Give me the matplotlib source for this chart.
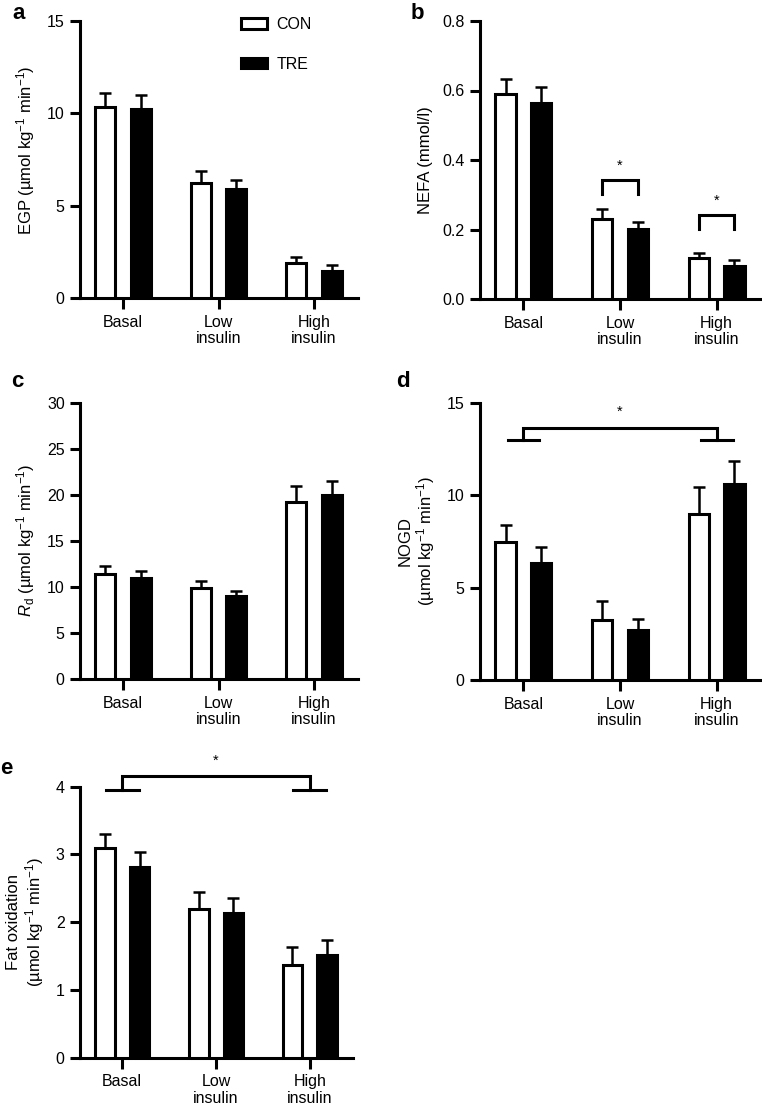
import numpy as np
import matplotlib
matplotlib.use("Agg")
import matplotlib.pyplot as plt
from matplotlib.patches import Patch

plt.rcParams['font.family'] = ['Liberation Sans', 'DejaVu Sans']
plt.rcParams['mathtext.fontset'] = 'custom'
plt.rcParams['mathtext.rm'] = 'Liberation Sans'
plt.rcParams['mathtext.it'] = 'Liberation Sans:italic'
plt.rcParams['mathtext.bf'] = 'Liberation Sans:bold'

### Data
groups = ["Basal", "Low\ninsulin", "High\ninsulin"]

egp_con = [10.35, 6.25, 1.92]
egp_con_err = [0.75, 0.63, 0.30]
egp_tre = [10.25, 5.90, 1.47]
egp_tre_err = [0.75, 0.50, 0.34]

nefa_con = [0.589, 0.231, 0.117]
nefa_con_err = [0.045, 0.028, 0.016]
nefa_tre = [0.565, 0.201, 0.096]
nefa_tre_err = [0.045, 0.022, 0.015]

rd_con = [11.38, 9.86, 19.16]
rd_con_err = [0.87, 0.82, 1.74]
rd_tre = [10.95, 9.02, 19.92]
rd_tre_err = [0.72, 0.51, 1.57]

nogd_con = [7.45, 3.25, 9.00]
nogd_con_err = [0.92, 1.01, 1.46]
nogd_tre = [6.35, 2.70, 10.59]
nogd_tre_err = [0.83, 0.62, 1.27]

fat_con = [3.10, 2.20, 1.36]
fat_con_err = [0.20, 0.24, 0.27]
fat_tre = [2.82, 2.14, 1.51]
fat_tre_err = [0.22, 0.22, 0.23]

W, H = 762, 1106
LW = 2.2
OFF = 0.185
BW = 0.21
FS = 11.5
LFS = 12


def rect(x0, x1, ytop, ybot):
    return [x0 / W, 1 - ybot / H, (x1 - x0) / W, (ybot - ytop) / H]


def bar_panel(fig, r, con, con_err, tre, tre_err, ymax, yticks, ylabel, fmt=None):
    ax = fig.add_axes(r)
    x = np.arange(len(groups))
    ax.bar(x - OFF, con, BW, facecolor='white', edgecolor='black', linewidth=LW, zorder=3)
    ax.bar(x + OFF, tre, BW, facecolor='black', edgecolor='black', linewidth=LW, zorder=3)
    ax.errorbar(x - OFF, con, yerr=[np.zeros(3), con_err], fmt='none', ecolor='black',
                elinewidth=1.8, capsize=4, capthick=1.8, zorder=2)
    ax.errorbar(x + OFF, tre, yerr=[np.zeros(3), tre_err], fmt='none', ecolor='black',
                elinewidth=1.8, capsize=4, capthick=1.8, zorder=2)
    ax.set_xlim(-0.45, 2.46)
    ax.set_ylim(0, ymax)
    ax.set_yticks(yticks)
    if fmt:
        ax.set_yticklabels([fmt.format(v) for v in yticks])
    ax.set_xticks(x)
    ax.set_xticklabels(groups, linespacing=1.15)
    for s in ['top', 'right']:
        ax.spines[s].set_visible(False)
    ax.spines['left'].set_linewidth(LW)
    ax.spines['bottom'].set_linewidth(LW)
    ax.spines['left'].set_bounds(0, ymax)
    ax.tick_params(axis='y', length=7, width=LW, labelsize=FS, pad=4)
    ax.tick_params(axis='x', length=8, width=LW, labelsize=FS, pad=4)
    ax.set_ylabel(ylabel, fontsize=LFS, labelpad=7, linespacing=1.1)
    ax.patch.set_visible(False)
    return ax


def pair_bracket(ax, i, ytop, yleg, ystar):
    x0, x1 = i - OFF, i + OFF
    ax.plot([x0, x0, x1, x1], [yleg, ytop, ytop, yleg], color='black', lw=LW,
            clip_on=False, solid_joinstyle='miter')
    ax.text(i, ystar, '*', ha='center', va='center', fontsize=10.5)


def group_bracket(ax, i, j, ytop, yfoot, ystar, foot=0.165):
    ax.plot([i, i, j, j], [yfoot, ytop, ytop, yfoot], color='black', lw=LW,
            clip_on=False, solid_joinstyle='miter')
    for k in (i, j):
        ax.plot([k - foot, k + foot], [yfoot, yfoot], color='black', lw=LW, clip_on=False)
    ax.text((i + j) / 2, ystar, '*', ha='center', va='center', fontsize=10.5)


unit = '(µmol kg$^{-1}$ min$^{-1}$)'

fig = plt.figure(figsize=(W / 100, H / 100), dpi=100)

ax_a = bar_panel(fig, rect(80, 358, 21, 298), egp_con, egp_con_err, egp_tre, egp_tre_err,
                 15, [0, 5, 10, 15], 'EGP ' + unit)
ax_a.yaxis.label.set_y(0.535)
ax_b = bar_panel(fig, rect(480, 761, 21, 299), nefa_con, nefa_con_err, nefa_tre, nefa_tre_err,
                 0.8, [0, 0.2, 0.4, 0.6, 0.8], 'NEFA (mmol/l)', fmt='{:.1f}')
ax_c = bar_panel(fig, rect(80, 358, 402.5, 679), rd_con, rd_con_err, rd_tre, rd_tre_err,
                 30, [0, 5, 10, 15, 20, 25, 30], '$R_\\mathrm{d}$ ' + unit)
ax_d = bar_panel(fig, rect(480, 761, 402.7, 680), nogd_con, nogd_con_err, nogd_tre, nogd_tre_err,
                 15, [0, 5, 10, 15], 'NOGD\n' + unit)
ax_e = bar_panel(fig, rect(80, 353, 786.7, 1057.5), fat_con, fat_con_err, fat_tre, fat_tre_err,
                 4, [0, 1, 2, 3, 4], 'Fat oxidation\n' + unit)

pair_bracket(ax_b, 1, 0.342, 0.302, 0.383)
pair_bracket(ax_b, 2, 0.242, 0.201, 0.282)
group_bracket(ax_d, 0, 2, 13.65, 12.98, 14.5)
group_bracket(ax_e, 0, 2, 4.16, 3.95, 4.39, foot=0.175)

handles = [Patch(facecolor='white', edgecolor='black', linewidth=LW),
           Patch(facecolor='black', edgecolor='black', linewidth=LW)]
fig.legend(handles, ['CON', 'TRE'], loc='upper left', bbox_to_anchor=(241 / W, 1 - 17 / H),
           frameon=False, handlelength=1.6, handleheight=0.65, labelspacing=1.55,
           handletextpad=0.6, borderpad=0, borderaxespad=0, fontsize=FS)

for lab, x, y in [('a', 12, 3), ('b', 411, 3), ('c', 11, 371), ('d', 396, 371), ('e', 0, 758)]:
    fig.text(x / W, 1 - y / H, lab, fontsize=16, fontweight='bold', va='top', ha='left')

fig.savefig('out.png', dpi=100)
